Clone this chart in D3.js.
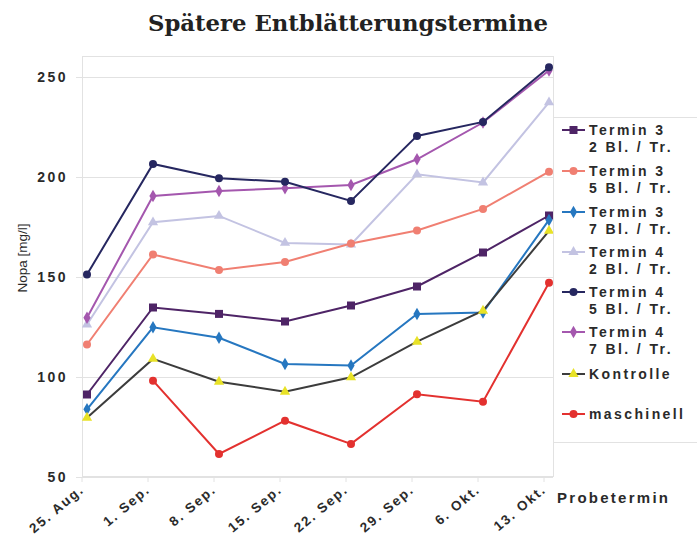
<!DOCTYPE html>
<html><head><meta charset="utf-8">
<script src="https://cdn.jsdelivr.net/npm/d3@7"></script>
<style>
body{margin:0;background:#fff;}
text{font-family:"Liberation Sans",Arial,sans-serif;}
text.title{font-family:"DejaVu Serif","Liberation Serif",serif;}
</style></head>
<body><svg id="c" width="697" height="541"></svg>
<script>
const dates = ["25. Aug.","1. Sep.","8. Sep.","15. Sep.","22. Sep.","29. Sep.","6. Okt.","13. Okt."];
const yTicks = [50,100,150,200,250];
const seriesNames = [["Termin 3","2 Bl. / Tr."],["Termin 3","5 Bl. / Tr."],["Termin 3","7 Bl. / Tr."],["Termin 4","2 Bl. / Tr."],["Termin 4","5 Bl. / Tr."],["Termin 4","7 Bl. / Tr."],["Kontrolle"],["maschinell"]];
const t3_2 = [91,134.5,131.3,127.5,135.5,145,162,180.5];
const t3_5 = [116,161,153.3,157.3,166.5,173,183.8,202.4];
const t3_7 = [83.6,124.6,119.4,106.3,105.5,131.3,132,178.3];
const t4_2 = [126,177.1,180.3,166.8,166,201.1,197,237.1];
const t4_5 = [151,206.3,199.1,197.4,187.8,220.3,227.3,254.6];
const t4_7 = [129.4,190.3,192.8,194.1,195.8,208.6,227,253];
const kontrolle = [79.4,108.8,97.4,92.4,99.6,117.4,132.9,172.8];
const maschinell = [null,97.9,61.3,77.9,66.3,91.1,87.4,146.9];
const lineColors = ["#4e2466","#f07f72","#2677c0","#c3c3e2","#262760","#a457ae","#3c3c3c","#e3312f"];
const markerColors = ["#4e2466","#f07f72","#2677c0","#c3c3e2","#262760","#a457ae","#e8e227","#e3312f"];
const markers = ["square","circle","diamond","triangle","circle","diamond","triangle","circle"];
const allSeries = [t3_2,t3_5,t3_7,t4_2,t4_5,t4_7,kontrolle,maschinell];

const svg = d3.select("#c");
const x = d3.scalePoint().domain(dates).range([87,549]);
const y = d3.scaleLinear().domain([50,260]).range([476.5,56.5]);

// frame
svg.append("rect").attr("x",82.5).attr("y",56.5).attr("width",471).attr("height",420)
  .attr("fill","none").attr("stroke","#e2e2e2");
// grid
svg.append("g").selectAll("line").data(yTicks).join("line")
  .attr("x1",76).attr("x2",553).attr("y1",d=>Math.round(y(d))+0.5).attr("y2",d=>Math.round(y(d))+0.5)
  .attr("stroke","#e2e2e2");
// y labels
svg.append("g").selectAll("text").data(yTicks).join("text")
  .attr("x",68).attr("y",d=>y(d)+5).attr("text-anchor","end")
  .attr("font-size",14).attr("font-weight","bold").attr("fill","#2a2a2a")
  .attr("letter-spacing","2.5px").text(d=>d);
// y title
svg.append("text").attr("transform","translate(27,258) rotate(-90)").attr("text-anchor","middle")
  .attr("font-size",13.5).attr("fill","#2a2a2a").text("Nopa [mg/l]");
// x ticks
svg.append("g").selectAll("line").data(dates).join("line")
  .attr("x1",d=>x(d)-5).attr("x2",d=>x(d)-5).attr("y1",477).attr("y2",482).attr("stroke","#e2e2e2");
// x labels
svg.append("g").selectAll("text").data(dates).join("text")
  .attr("transform",d=>`translate(${x(d)-2},${491}) rotate(-40)`)
  .attr("text-anchor","end").attr("font-size",13.5).attr("font-weight","bold").attr("fill","#2a2a2a")
  .attr("letter-spacing","1.8px").text(d=>d);
svg.append("text").attr("x",557).attr("y",503).attr("font-size",15).attr("font-weight","bold")
  .attr("fill","#2a2a2a").attr("textLength",111).attr("lengthAdjust","spacing").text("Probetermin");

// title
svg.append("text").attr("class","title").attr("x",348).attr("y",31).attr("text-anchor","middle")
  .attr("font-size",23).attr("font-weight","bold")
  .attr("fill","#222").attr("textLength",400).attr("lengthAdjust","spacingAndGlyphs").text("Spätere Entblätterungstermine");

function drawMarker(g, type, cx, cy, color){
  if(type==="square") g.append("rect").attr("x",cx-4).attr("y",cy-4).attr("width",8).attr("height",8).attr("fill",color);
  else if(type==="circle") g.append("circle").attr("cx",cx).attr("cy",cy).attr("r",4).attr("fill",color);
  else if(type==="diamond") g.append("path").attr("d",d3.symbol(d3.symbolDiamond,45)()).attr("transform",`translate(${cx},${cy})`).attr("fill",color);
  else g.append("path").attr("d",d3.symbol(d3.symbolTriangle,45)()).attr("transform",`translate(${cx},${cy})`).attr("fill",color);
}

const line = d3.line().defined(d=>d[1]!=null).x(d=>x(d[0])).y(d=>y(d[1]));
const order = [3,1,0,2,6,7,5,4];
order.forEach(i=>{
  const data = dates.map((d,j)=>[d,allSeries[i][j]]);
  const g = svg.append("g");
  g.append("path").datum(data).attr("d",line).attr("fill","none").attr("stroke",lineColors[i]).attr("stroke-width",2);
  data.filter(d=>d[1]!=null).forEach(d=>drawMarker(g,markers[i],x(d[0]),y(d[1]),markerColors[i]));
});

// legend
svg.append("rect").attr("x",553.5).attr("y",117.5).attr("width",160).attr("height",325)
  .attr("fill","none").attr("stroke","#e2e2e2");
const legY = [130,171,212,252,292,332,374,414];
seriesNames.forEach((nm,i)=>{
  const g = svg.append("g");
  const ly = legY[i];
  g.append("line").attr("x1",562).attr("x2",585).attr("y1",ly).attr("y2",ly).attr("stroke",lineColors[i]).attr("stroke-width",2);
  drawMarker(g,markers[i],573.5,ly,markerColors[i]);
  nm.forEach((t,k)=>{
    g.append("text").attr("x",589).attr("y",ly+5+k*17).attr("font-size",14).attr("font-weight","bold")
      .attr("fill","#2a2a2a").attr("letter-spacing","2.4px").text(t);
  });
});
</script></body></html>
